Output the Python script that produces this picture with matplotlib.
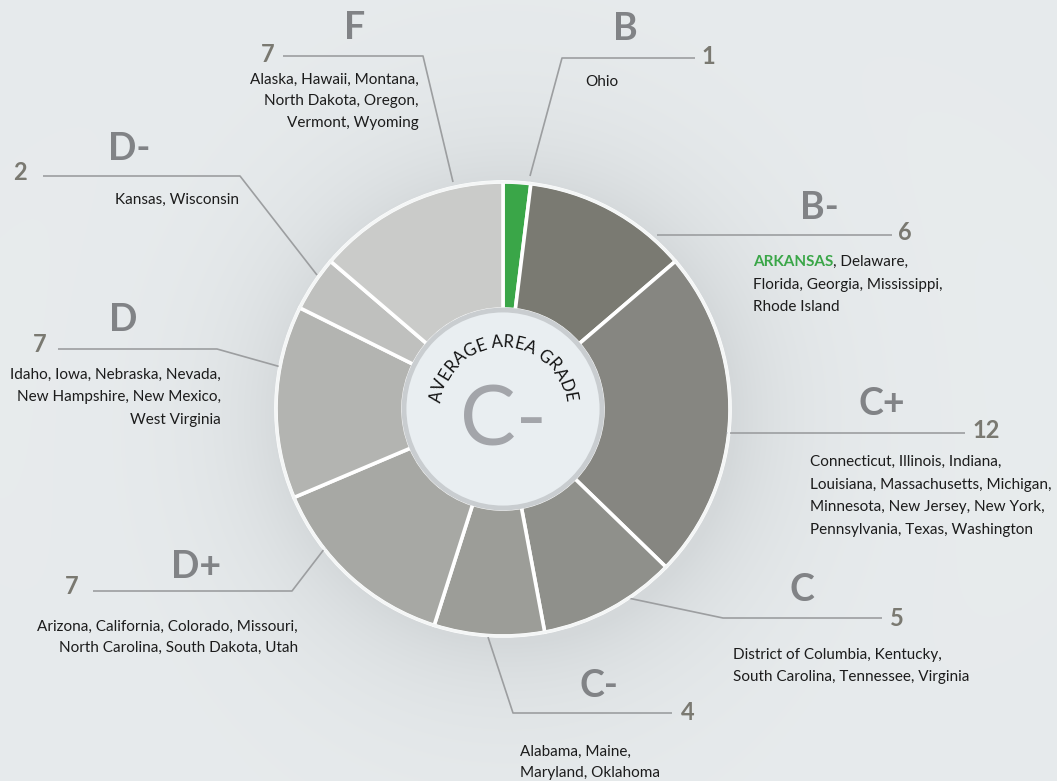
import numpy as np
import matplotlib
matplotlib.use("Agg")
import matplotlib.pyplot as plt
from matplotlib.patches import Circle
from matplotlib.font_manager import FontProperties

# ---------------- data ----------------
grades = ["B", "B-", "C+", "C", "C-", "D+", "D", "D-", "F"]
counts = [1, 6, 12, 5, 4, 7, 7, 2, 7]
states = [
    ["Ohio"],
    ["ARKANSAS, Delaware,", "Florida, Georgia, Mississippi,", "Rhode Island"],
    ["Connecticut, Illinois, Indiana,", "Louisiana, Massachusetts, Michigan,",
     "Minnesota, New Jersey, New York,", "Pennsylvania, Texas, Washington"],
    ["District of Columbia, Kentucky,", "South Carolina, Tennessee, Virginia"],
    ["Alabama, Maine,", "Maryland, Oklahoma"],
    ["Arizona, California, Colorado, Missouri,", "North Carolina, South Dakota, Utah"],
    ["Idaho, Iowa, Nebraska, Nevada,", "New Hampshire, New Mexico,", "West Virginia"],
    ["Kansas, Wisconsin"],
    ["Alaska, Hawaii, Montana,", "North Dakota, Oregon,", "Vermont, Wyoming"],
]
highlight_state = "ARKANSAS"
center_title = "AVERAGE AREA GRADE"
average_grade = "C-"

# ---------------- style ----------------
W, H = 1057, 781
wedge_colors = ['#3aa648', '#7a7a72', '#868681', '#8f908b', '#9c9d98',
                '#a7a8a4', '#b3b4b1', '#bfc0be', '#cacbc9']
grade_color = '#818386'
count_color = '#7a7971'
line_color = '#9c9ea0'
text_color = '#1c1c1c'
green = '#3aa648'
FONT = 'Lato'
ST_SIZE = 11

fig = plt.figure(figsize=(W / 100, H / 100), dpi=100)
ax = fig.add_axes([0, 0, 1, 1])

def Y(y):
    return H - y

cx, cy = 503, 409
R_out, R_in = 227, 100

# background with soft shadow around the donut
yy, xx = np.mgrid[0:H, 0:W]
rr = np.hypot(xx - cx - 6, yy - cy - 6)
base = np.array([0.918, 0.933, 0.940])
shade = 0.08 * np.exp(-np.clip(rr - R_out, 0, None) / 70.0)
vign = 0.02 * (np.hypot((xx - W / 2) / W, (yy - H / 2) / H))
img = base[None, None, :] - (shade + vign)[..., None] * np.array([1.0, 0.98, 0.97])
ax.imshow(img, extent=[0, W, 0, H], origin='upper', zorder=0, aspect='auto')

# donut
ax.pie(counts, colors=wedge_colors, startangle=90, counterclock=False,
       center=(cx, Y(cy)), radius=R_out,
       wedgeprops=dict(width=R_out - R_in, edgecolor='white', linewidth=2.6),
       normalize=True)
ax.add_patch(Circle((cx, Y(cy)), R_out, fill=False, edgecolor='#f4f6f6', lw=2.0, zorder=3))
ax.add_patch(Circle((cx, Y(cy)), R_in - 1, facecolor='#e9eef1', edgecolor='#c9cdd0',
                    lw=3.5, zorder=4))

# central text
ax.text(cx, Y(422), average_grade, ha='center', va='center', fontsize=60,
        family=FONT, color='#a3a5aa', zorder=5)

fig.canvas.draw()
renderer = fig.canvas.get_renderer()
arc_fp = FontProperties(family=FONT, size=12)

def tw(s, fp):
    if s == "":
        return 0.0
    w, h, d = renderer.get_text_width_height_descent(s, fp, ismath=False)
    return w

R_txt = 62
total = tw(center_title, arc_fp)
span = total / R_txt
theta0 = np.pi / 2 + span / 2
for i, ch in enumerate(center_title):
    s = tw(center_title[:i], arc_fp) + tw(ch, arc_fp) / 2
    th = theta0 - s / R_txt
    ax.text(cx + R_txt * np.cos(th), Y(cy) + R_txt * np.sin(th), ch,
            ha='center', va='baseline', rotation=np.degrees(th) - 90,
            rotation_mode='anchor', fontproperties=arc_fp, color='#111111', zorder=6)

# label layout (pixel positions)
layout = {
    "B":  dict(g=(625, 29), n=(708, 56), path=[(530, 176), (562, 58), (695, 58)],
               tx=585, ty=[82], ha='left'),
    "B-": dict(g=(819, 208), n=(905, 233), path=[(657, 235), (892, 235)],
               tx=753, ty=[262, 285, 307], ha='left'),
    "C+": dict(g=(882, 404), n=(986, 431), path=[(726, 433), (965, 433)],
               tx=810, ty=[462, 485, 507, 530], ha='left'),
    "C":  dict(g=(802, 590), n=(897, 618), path=[(628, 598), (723, 618), (882, 618)],
               tx=733, ty=[655, 677], ha='left'),
    "C-": dict(g=(599, 686), n=(688, 713), path=[(488, 637), (513, 713), (672, 713)],
               tx=520, ty=[752, 773], ha='left'),
    "D+": dict(g=(196, 567), n=(72, 587), path=[(325, 548), (292, 591), (93, 591)],
               tx=298, ty=[627, 648], ha='right'),
    "D":  dict(g=(123, 320), n=(40, 345), path=[(281, 367), (217, 349), (58, 349)],
               tx=221, ty=[375, 397, 420], ha='right'),
    "D-": dict(g=(129, 149), n=(20, 173), path=[(317, 275), (240, 176), (43, 176)],
               tx=239, ty=[200], ha='right'),
    "F":  dict(g=(355, 28), n=(268, 55), path=[(453, 182), (423, 56), (283, 56)],
               tx=419, ty=[80, 101, 123], ha='right'),
}

st_fp = FontProperties(family=FONT, size=ST_SIZE)
for g, n, lines in zip(grades, counts, states):
    L = layout[g]
    px = [p[0] for p in L['path']]
    py = [Y(p[1]) for p in L['path']]
    ax.plot(px, py, color=line_color, lw=1.2, solid_capstyle='butt', zorder=2)
    ax.text(L['g'][0], Y(L['g'][1]), g, ha='center', va='center', fontsize=27,
            fontweight='bold', family=FONT, color=grade_color, zorder=5)
    ax.text(L['n'][0], Y(L['n'][1]), str(n), ha='center', va='center', fontsize=17,
            fontweight='bold', family=FONT, color=count_color, zorder=5)
    for line, ty in zip(lines, L['ty']):
        if line.startswith(highlight_state):
            rest = line[len(highlight_state):]
            hfp = FontProperties(family=FONT, size=ST_SIZE, weight='bold')
            ax.text(L['tx'], Y(ty), highlight_state, ha='left', va='center',
                    fontproperties=hfp, color=green, zorder=5)
            ax.text(L['tx'] + tw(highlight_state, hfp), Y(ty), rest, ha='left',
                    va='center', fontproperties=st_fp, color=text_color, zorder=5)
        else:
            ax.text(L['tx'], Y(ty), line, ha=L['ha'], va='center',
                    fontproperties=st_fp, color=text_color, zorder=5)

ax.set_xlim(0, W)
ax.set_ylim(0, H)
ax.set_aspect('auto')
ax.axis('off')
fig.savefig("out.png", dpi=100)
